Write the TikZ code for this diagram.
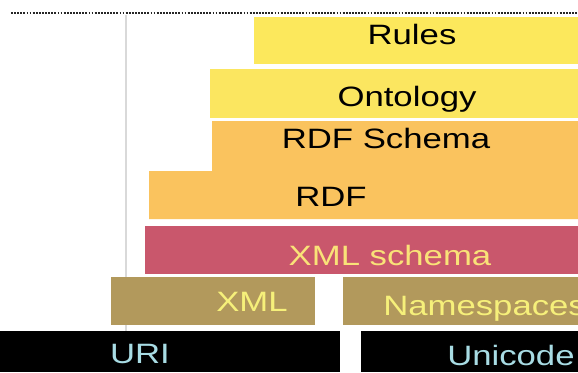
\documentclass[tikz,border=0pt]{standalone}
\usepackage{fontspec}
\setmainfont{Liberation Sans}
\definecolor{ruleyel}{HTML}{FCE85C}
\definecolor{ontoyel}{HTML}{FBE660}
\definecolor{rdforange}{HTML}{FAC35E}
\definecolor{xsdpink}{HTML}{C9576C}
\definecolor{xmlolive}{HTML}{B2995C}
\definecolor{xmltext}{HTML}{F6F07A}
\definecolor{xsdtext}{HTML}{F9E278}
\definecolor{uritext}{HTML}{A8DCE4}
\begin{document}
\begin{tikzpicture}[x=1pt,y=-1pt,
  lbl/.style={font=\fontsize{28}{28}\selectfont, xscale=1.24, inner sep=0pt, anchor=base}]
\clip (0,0) rectangle (578,372);
\fill[white] (0,0) rectangle (578,372);
\draw[black!85, line width=1.6pt, dash pattern=on 1.8pt off 1.3pt] (11,12.7) -- (578,12.7);
\draw[black!15, line width=1.8pt] (126,15) -- (126,331);
\fill[ruleyel] (254,17) rectangle (578,64);
\fill[ontoyel] (210,69) rectangle (578,118);
\fill[rdforange] (212,121) -- (578,121) -- (578,219) -- (149,219) -- (149,171) -- (212,171) -- cycle;
\fill[xsdpink] (145,226) rectangle (578,274);
\fill[xmlolive] (111,277) rectangle (315,325);
\fill[xmlolive] (343,277) rectangle (578,325);
\fill[black] (0,331) rectangle (340,372);
\fill[black] (361,331) rectangle (578,372);
\node[lbl] (rules) at (412,44) {Rules};
\node[lbl] (ontology) at (407,106) {Ontology};
\node[lbl] (rdfs) at (386,148) {RDF Schema};
\node[lbl] (rdf) at (331,206) {RDF};
\node[lbl, text=xsdtext] (xmls) at (390,265) {XML schema};
\node[lbl, text=xmltext] (xml) at (252,311) {XML};
\node[lbl, text=xmltext, anchor=base west] (ns) at (383,315) {Namespaces};
\node[lbl, text=uritext] (uri) at (140,363) {URI};
\node[lbl, text=uritext, anchor=base west] (unicode) at (447,365) {Unicode};
\end{tikzpicture}
\end{document}
